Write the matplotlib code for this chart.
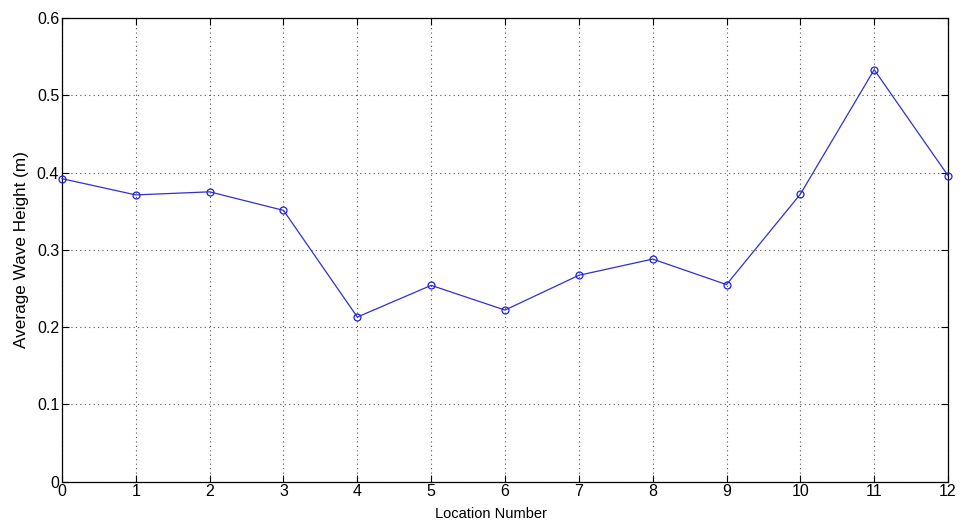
import matplotlib
matplotlib.use('Agg')
import matplotlib.pyplot as plt

# dane
lokalizacje = list(range(0, 13))
srednia_wysokosc = [0.392, 0.371, 0.375, 0.351, 0.213, 0.254, 0.222,
                    0.267, 0.288, 0.255, 0.372, 0.533, 0.396]

xticki = list(range(0, 13))
yticki = [0, 0.1, 0.2, 0.3, 0.4, 0.5, 0.6]
yticki_opisy = ['0', '0.1', '0.2', '0.3', '0.4', '0.5', '0.6']

plt.rcParams['font.family'] = ['Liberation Sans', 'DejaVu Sans']

fig = plt.figure(figsize=(9.61, 5.27), dpi=100)
ax = fig.add_axes([0.0645, 0.086, 0.922, 0.880])

ax.plot(lokalizacje, srednia_wysokosc, color='#3030d0', linewidth=0.9,
        marker='o', markersize=5, markerfacecolor='none',
        markeredgecolor='#2020e0', markeredgewidth=0.9, clip_on=False, zorder=3)

ax.set_xlim(0, 12)
ax.set_ylim(0, 0.6)
ax.set_xticks(xticki)
ax.set_yticks(yticki)
ax.set_yticklabels(yticki_opisy)

ax.grid(True, linestyle=(0, (1, 3)), color='#505050', linewidth=0.8)
ax.tick_params(direction='in', length=5, width=0.8, labelsize=11.5,
               top=True, right=True, pad=2)
for s in ax.spines.values():
    s.set_linewidth(0.9)

ax.set_xlabel('Location Number', fontsize=10.5, labelpad=0)
ax.xaxis.set_label_coords(0.484, -0.055)
ax.set_ylabel('Average Wave Height (m)', fontsize=12.3)
ax.yaxis.set_label_coords(-0.037, 0.5)

fig.savefig('out.png', dpi=100)
